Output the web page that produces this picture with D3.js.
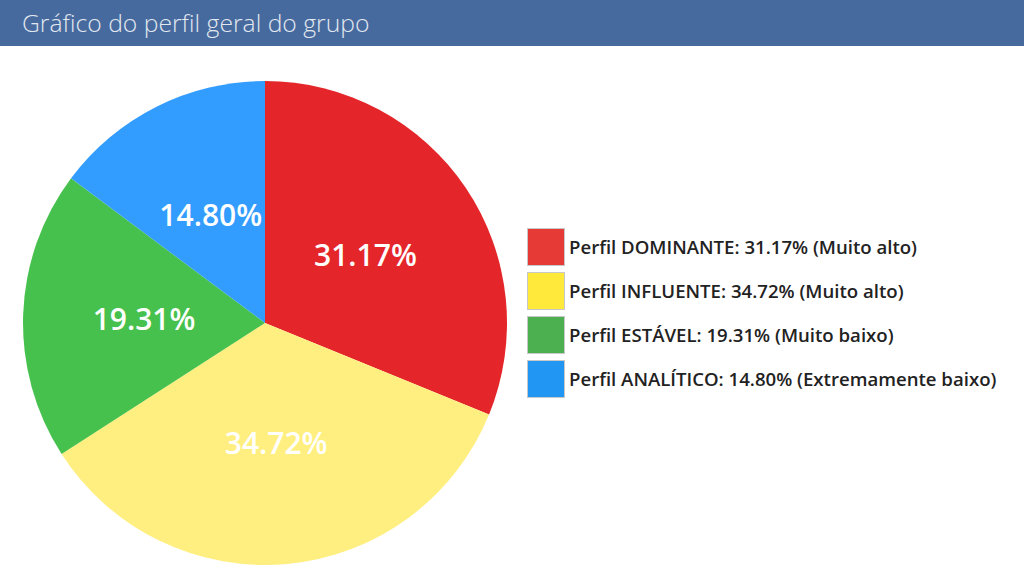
<!DOCTYPE html>
<html><head><meta charset="utf-8">
<script src="https://cdn.jsdelivr.net/npm/d3@7"></script>
<style>
html,body{margin:0;padding:0;background:#fff;}
svg{display:block;}
</style></head>
<body>
<svg id="chart" width="1024" height="576"></svg>
<script>
const title = "Gráfico do perfil geral do grupo";
const categories = ["Perfil DOMINANTE", "Perfil INFLUENTE", "Perfil ESTÁVEL", "Perfil ANALÍTICO"];
const values = [31.17, 34.72, 19.31, 14.80];
const levels = ["Muito alto", "Muito alto", "Muito baixo", "Extremamente baixo"];
const sliceColors = ["#E42529", "#FFEF80", "#47C14D", "#339DFF"];
const legendColors = ["#E53A36", "#FFEA3B", "#4CAF50", "#2196F3"];

const svg = d3.select("#chart");
const font = "'Open Sans', sans-serif";

// title bar
svg.append("rect").attr("x",0).attr("y",0).attr("width",1024).attr("height",46).attr("fill","#476A9E");
svg.append("text").attr("x",22).attr("y",32).text(title)
  .attr("font-family",font).attr("font-size",24.7).attr("font-weight",300).attr("fill","#E2E8F0");

const cx = 265, cy = 323, R = 242;
const pie = d3.pie().sort(null).value(d=>d);
const arcs = pie(values);
const arc = d3.arc().innerRadius(0).outerRadius(R);
const labelArc = d3.arc().innerRadius(R*0.5).outerRadius(R*0.5);
const g = svg.append("g").attr("transform",`translate(${cx},${cy})`);
g.selectAll("path").data(arcs).join("path")
  .attr("d",arc).attr("fill",(d,i)=>sliceColors[i]);
g.selectAll("text").data(arcs).join("text")
  .attr("transform",d=>`translate(${labelArc.centroid(d)})`)
  .attr("text-anchor","middle").attr("dy","0.36em")
  .attr("font-family",font).attr("font-size",30).attr("font-weight",600)
  .attr("fill","#fff")
  .text(d=>d.data.toFixed(2)+"%");

// legend
const lg = svg.append("g").attr("transform","translate(527,228)");
const items = lg.selectAll("g").data(categories).join("g")
  .attr("transform",(d,i)=>`translate(0,${i*44})`);
items.append("rect").attr("x",0.5).attr("y",0.5).attr("width",37).attr("height",37)
  .attr("fill",(d,i)=>legendColors[i]).attr("stroke","#C8C8C8").attr("stroke-width",1);
items.append("text").attr("x",42).attr("y",19).attr("dy","0.35em")
  .attr("font-family",font).attr("font-size",18.6).attr("font-weight",600).attr("fill","#222")
  .text((d,i)=>`${d}: ${values[i].toFixed(2)}% (${levels[i]})`);
</script>
</body></html>
